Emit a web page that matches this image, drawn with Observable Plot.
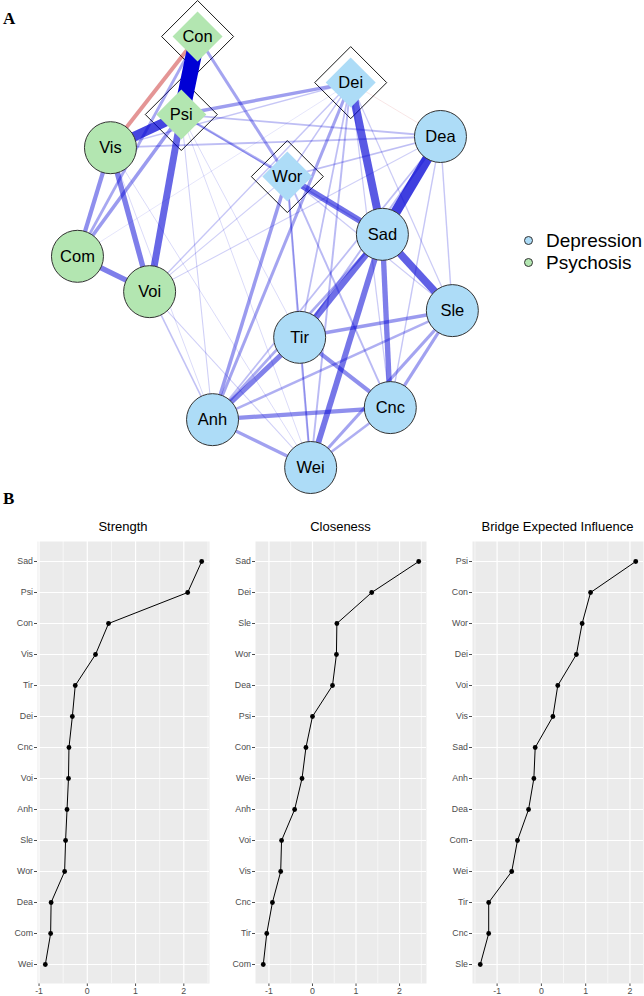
<!DOCTYPE html>
<html>
<head>
<meta charset="utf-8">
<script src="https://cdn.jsdelivr.net/npm/d3@7"></script>
<script src="https://cdn.jsdelivr.net/npm/@observablehq/plot@0.6"></script>
<style>
  body { margin: 0; background: white; }
  #root { position: relative; width: 644px; height: 996px; overflow: hidden; font-family: "Liberation Sans", Arial, sans-serif; }
  .abs { position: absolute; }
  .lab { font-family: "Liberation Serif", "Times New Roman", serif; font-weight: bold; font-size: 17px; line-height: 1; }
  .ptitle { font-size: 13px; color: black; line-height: 1; white-space: nowrap; transform: translateX(-50%); }
  .leg { font-size: 19px; color: black; line-height: 1; white-space: nowrap; }
  .legdot { width: 9px; height: 9px; border-radius: 50%; border: 1px solid #333; box-sizing: border-box; }
</style>
</head>
<body>
<div id="root"></div>
<script>
// ---------------- DATA ----------------
const nodes      = ["Con","Psi","Vis","Dei","Wor","Dea","Sad","Com","Voi","Tir","Anh","Wei","Sle","Cnc"];
const nodeGroup  = ["Psychosis","Psychosis","Psychosis","Depression","Depression","Depression","Depression","Psychosis","Psychosis","Depression","Depression","Depression","Depression","Depression"];
const bridgeSet  = ["Con","Psi","Dei","Wor"];
// layout coordinates (0..1)
const layoutX    = [0.357,0.320,0.159,0.705,0.561,0.909,0.777,0.084,0.248,0.589,0.391,0.614,0.936,0.795];
const layoutY    = [0.000,0.181,0.258,0.107,0.325,0.232,0.459,0.510,0.592,0.698,0.889,1.000,0.636,0.861];

const groups      = ["Depression","Psychosis"];
const groupColors = ["#ADDCF7","#B3E6B1"];

// edges (partial correlations, estimated)
const edgeFrom   = ["Con","Dea","Psi","Dei","Sad","Psi","Sad","Wor","Sad","Vis","Com","Sad","Tir","Con","Vis","Tir","Anh","Psi","Dei","Tir","Wor","Sle","Sle","Anh","Dei","Con","Com","Wei","Anh","Psi","Anh","Tir","Wor","Wor","Dea","Dea","Dea","Dei","Dei","Psi","Vis","Dei","Vis","Psi","Voi","Voi","Dea","Dea","Dei","Dei","Wor","Wor","Voi","Voi","Voi","Psi","Psi","Vis","Vis","Psi","Com","Dei"];
const edgeTo     = ["Psi","Sad","Vis","Sad","Sle","Voi","Tir","Sad","Wei","Voi","Voi","Cnc","Anh","Vis","Com","Cnc","Cnc","Com","Psi","Sle","Anh","Cnc","Wei","Wei","Anh","Wor","Con","Cnc","Sle","Wor","Sad","Wei","Tir","Cnc","Tir","Anh","Wor","Tir","Wei","Dea","Dea","Wor","Dei","Sad","Dei","Anh","Sle","Cnc","Sle","Cnc","Wei","Sle","Dea","Wor","Wei","Anh","Wei","Anh","Wei","Tir","Dei","Dea"];
const edgeWeight = [0.45,0.285,0.27,0.225,0.21,0.195,0.18,0.175,0.165,0.15,0.15,0.15,0.145,-0.11,0.12,0.12,0.12,0.10,0.095,0.10,0.10,0.09,0.085,0.09,0.085,0.085,0.08,0.07,0.07,0.07,0.075,0.06,0.06,0.055,0.055,0.05,0.05,0.05,0.055,0.05,0.05,0.045,0.04,0.04,0.04,0.045,0.04,0.04,0.035,0.035,0.04,0.035,0.03,0.03,0.03,0.03,0.025,0.025,0.025,0.025,0.02,-0.02];

// centrality panels
const strengthNodes   = ["Sad","Psi","Con","Vis","Tir","Dei","Cnc","Voi","Anh","Sle","Wor","Dea","Com","Wei"];
const strengthValues  = [2.37,2.08,0.44,0.17,-0.25,-0.31,-0.38,-0.39,-0.42,-0.45,-0.47,-0.75,-0.76,-0.87];
const closenessNodes  = ["Sad","Dei","Sle","Wor","Dea","Psi","Con","Wei","Anh","Voi","Vis","Cnc","Tir","Com"];
const closenessValues = [2.44,1.36,0.56,0.55,0.46,0.00,-0.15,-0.24,-0.41,-0.71,-0.73,-0.92,-1.05,-1.13];
const beiNodes        = ["Psi","Con","Wor","Dei","Voi","Vis","Sad","Anh","Dea","Com","Wei","Tir","Cnc","Sle"];
const beiValues       = [2.13,1.11,0.92,0.79,0.37,0.26,-0.14,-0.17,-0.29,-0.54,-0.67,-1.19,-1.19,-1.38];
const panelTitles     = ["Strength","Closeness","Bridge Expected Influence"];
const xTicks          = [-1,0,1,2];
const xMinorTicks     = [-1.5,-0.5,0.5,1.5,2.5];

// ---------------- BUILD ----------------
const root = document.getElementById("root");
const FONT = '"Liberation Sans", Arial, sans-serif';

const nodeRows = nodes.map((n,i) => ({
  name: n, x: layoutX[i], y: layoutY[i], group: nodeGroup[i],
  fill: groupColors[groups.indexOf(nodeGroup[i])], bridge: bridgeSet.includes(n)
}));
const byName = new Map(nodeRows.map(d => [d.name, d]));
const maxW = d3.max(edgeWeight, Math.abs);
const edgeRows = edgeFrom.map((f,i) => ({
  a: byName.get(f), b: byName.get(edgeTo[i]), w: edgeWeight[i]
})).sort((p,q) => Math.abs(p.w) - Math.abs(q.w));

const diamond = { draw(ctx, size) { const h = Math.sqrt(size / Math.PI); ctx.moveTo(0,-h); ctx.lineTo(h,0); ctx.lineTo(0,h); ctx.lineTo(-h,0); ctx.closePath(); } };

const bridgeRows = nodeRows.filter(d => d.bridge);
const circleRows = nodeRows.filter(d => !d.bridge);

const net = Plot.plot({
  width: 644, height: 500, margin: 0,
  style: { background: "none", fontFamily: FONT },
  x: { domain: [0,1], range: [40,480], axis: null },
  y: { domain: [0,1], range: [36,467], axis: null },
  color: { type: "identity" },
  marks: [
    Plot.dot(bridgeRows, { x: "x", y: "y", r: 36, symbol: diamond, fill: "white", stroke: "black", strokeWidth: 0.9 }),
    Plot.link(edgeRows, {
      x1: d => d.a.x, y1: d => d.a.y, x2: d => d.b.x, y2: d => d.b.y,
      stroke: d => d.w > 0 ? "#0000D5" : "#BF0000",
      strokeOpacity: d => Math.pow(Math.abs(d.w) / maxW, 0.62),
      strokeWidth: d => Math.abs(d.w) / maxW * 16
    }),
    Plot.dot(circleRows, { x: "x", y: "y", r: 26, fill: "fill", stroke: "#333", strokeWidth: 1 }),
    Plot.dot(bridgeRows, { x: "x", y: "y", r: 25, symbol: diamond, fill: "fill" }),
    Plot.text(nodeRows, { x: "x", y: "y", text: "name", fontSize: 16.5, fill: "black", fontFamily: FONT })
  ]
});
net.classList.add("abs");
net.style.left = "0px"; net.style.top = "0px";
root.appendChild(net);

// labels A / B
function addDiv(cls, text, left, top) {
  const d = document.createElement("div");
  d.className = "abs " + cls; d.textContent = text;
  d.style.left = left + "px"; d.style.top = top + "px";
  root.appendChild(d); return d;
}
addDiv("lab", "A", 3, 10);
addDiv("lab", "B", 3, 490);

// legend
groups.forEach((g, i) => {
  const dot = document.createElement("div");
  dot.className = "abs legdot";
  dot.style.background = groupColors[i];
  dot.style.left = (524) + "px"; dot.style.top = (236 + i*22) + "px";
  root.appendChild(dot);
  addDiv("leg", g, 546, 231 + i*22);
});

// panels
const panels = [
  { names: strengthNodes, values: strengthValues, left: 0,   width: 212, ml: 37, mr: 3 },
  { names: closenessNodes, values: closenessValues, left: 212, width: 216, ml: 43, mr: 2 },
  { names: beiNodes, values: beiValues, left: 428, width: 216, ml: 44, mr: 1 }
];
panels.forEach((p, k) => {
  const data = p.names.map((n,i) => ({ n, v: p.values[i] }));
  const [lo, hi] = d3.extent(p.values);
  const pad = (hi - lo) * 0.05;
  const dom = [lo - pad, hi + pad];
  const minor = xMinorTicks.filter(t => t > dom[0] && t < dom[1]);
  const svg = Plot.plot({
    width: p.width, height: 466,
    marginLeft: p.ml, marginRight: p.mr, marginTop: 11, marginBottom: 13,
    style: { background: "none", fontFamily: FONT, fontSize: "8.8px", color: "#4D4D4D" },
    x: { domain: dom, ticks: xTicks, tickSize: 3, tickPadding: 1.5, label: null, tickFormat: d => String(d) },
    y: { type: "point", domain: p.names, padding: 0.6, tickSize: 3, tickPadding: 1.5, label: null },
    marks: [
      Plot.frame({ fill: "#EBEBEB", stroke: "none" }),
      Plot.ruleX(minor, { stroke: "white", strokeWidth: 0.6 }),
      Plot.ruleX(xTicks, { stroke: "white", strokeWidth: 1.2 }),
      Plot.ruleY(p.names, { stroke: "white", strokeWidth: 1.2 }),
      Plot.line(data, { x: "v", y: "n", stroke: "black", strokeWidth: 1 }),
      Plot.dot(data, { x: "v", y: "n", r: 2.4, fill: "black" })
    ]
  });
  svg.classList.add("abs");
  svg.style.left = p.left + "px"; svg.style.top = "530px";
  root.appendChild(svg);
  const cx = p.left + p.ml + (p.width - p.ml - p.mr) / 2;
  addDiv("ptitle", panelTitles[k], cx, 520);
});
</script>
</body>
</html>
